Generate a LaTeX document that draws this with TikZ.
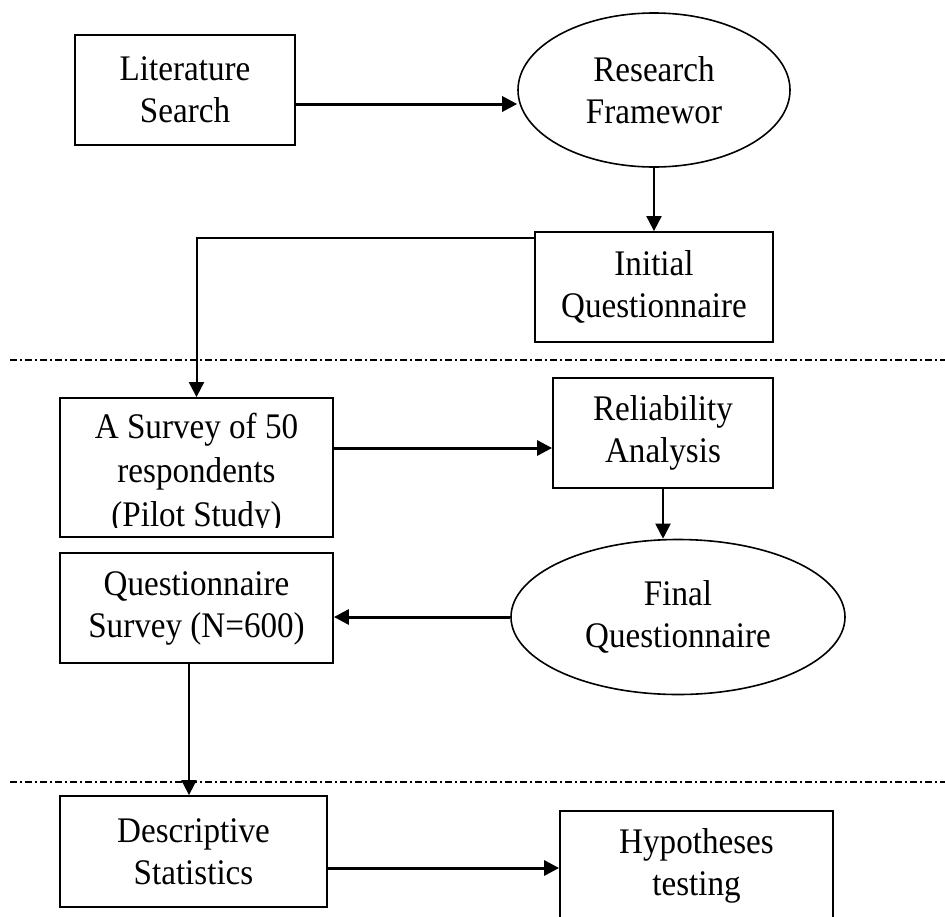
\documentclass[tikz,border=0pt]{standalone}
\usepackage{fontspec}
\setmainfont{Liberation Serif}[FakeStretch=0.92]
\usetikzlibrary{shapes.geometric,arrows.meta}
\begin{document}
\begin{tikzpicture}[x=1pt,y=-1pt,
  every node/.style={font=\fontsize{36}{42}\selectfont},
  boxnode/.style={draw,line width=1.8pt,rectangle,inner sep=0pt,align=center},
  ellnode/.style={draw,line width=1.6pt,ellipse,inner sep=0pt,align=center},
  thickarrow/.style={line width=3pt,-{Triangle[length=15pt,width=15pt]}},
  thinarrow/.style={line width=2pt,-{Triangle[length=15pt,width=15pt]}},
  sepline/.style={line width=1.4pt,dash pattern=on 7pt off 3pt on 2pt off 3pt}]
\useasboundingbox (0,0) rectangle (945,916);
\fill[white] (0,0) rectangle (945,916);

\node[boxnode,minimum width=220pt,minimum height=110pt] (lit) at (185,90) {Literature\\Search};
\node[ellnode,minimum width=272pt,minimum height=154pt] (rf) at (654,90) {Research\\Framewor};
\node[boxnode,minimum width=238pt,minimum height=110pt] (iq) at (654,287) {Initial\\Questionnaire};
\node[boxnode,minimum width=273pt,minimum height=139pt] (sv) at (196.5,467.5) {};
\begin{scope}
  \clip (60,398) rectangle (333,527);
  \node[align=center,font=\fontsize{36}{44}\selectfont] (svtext) at (196.5,474) {A Survey of 50\\respondents\\(Pilot Study)};
\end{scope}
\node[boxnode,minimum width=220pt,minimum height=110pt] (rel) at (663,433) {Reliability\\Analysis};
\node[ellnode,minimum width=334pt,minimum height=155pt] (fin) at (678,617) {Final\\Questionnaire};
\node[boxnode,minimum width=273pt,minimum height=110pt] (qs) at (196.5,608) {Questionnaire\\Survey (N=600)};
\node[boxnode,minimum width=267pt,minimum height=111pt] (desc) at (193.5,851.5) {Descriptive\\Statistics};
\node[boxnode,minimum width=273pt,minimum height=110pt] (hyp) at (696.5,866) {Hypotheses\\testing};

\coordinate (sepAl) at (10,360);
\coordinate (sepAr) at (945,360);
\coordinate (sepBl) at (10,782);
\coordinate (sepBr) at (945,782);
\draw[sepline] (sepAl) -- (sepAr);
\draw[sepline] (sepBl) -- (sepBr);

\draw[thickarrow] (lit.east|-0,104) -- (rf.west|-0,104);
\draw[thinarrow] (rf.south) -- (iq.north);
\draw[thinarrow] (iq.west|-0,238) -| (sv.north);
\draw[thickarrow] (sv.east|-0,448) -- (rel.west|-0,448);
\draw[thinarrow] (rel.south) -- (rel.south|-fin.north);
\draw[thickarrow] (fin.west) -- (qs.east|-fin.west);
\draw[thinarrow] (qs.south-|189,0) -- (desc.north-|189,0);
\draw[thickarrow] (desc.east|-0,868) -- (hyp.west|-0,868);
\end{tikzpicture}
\end{document}
